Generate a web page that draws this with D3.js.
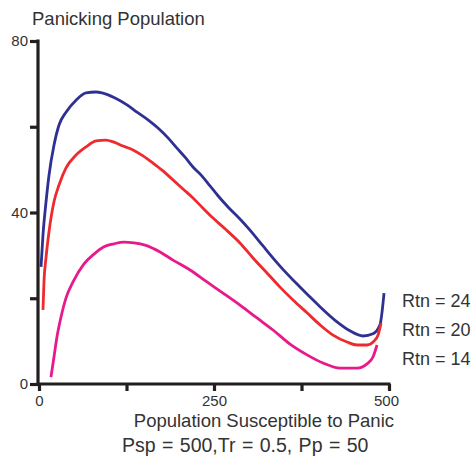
<!DOCTYPE html>
<html>
<head>
<meta charset="utf-8">
<script src="https://cdn.jsdelivr.net/npm/d3@7"></script>
<style>
  html, body { margin: 0; padding: 0; background: #fff; }
  svg { display: block; font-family: "Liberation Sans", Arial, sans-serif; }
</style>
</head>
<body>
<svg id="chart" width="472" height="460"></svg>
<script>
// Series: [population susceptible, panicking population]
const rtn24 = [[2.9,27.3],[5.7,34.8],[10.0,42.4],[14.3,48.7],[21.4,55.7],[28.6,60.4],[38.6,63.4],[52.9,66.2],[67.1,67.9],[81.4,68.1],[90.0,67.9],[108.6,66.7],[125.7,65.1],[140.0,63.4],[155.7,61.6],[170.0,59.7],[184.3,57.4],[197.1,55.0],[208.6,52.9],[220.0,50.6],[232.9,48.5],[244.3,46.2],[255.7,43.9],[270.0,41.3],[287.1,38.5],[301.4,35.9],[320.0,32.2],[344.3,27.5],[368.6,23.3],[397.1,18.7],[425.7,14.5],[444.3,12.4],[462.9,11.2],[477.1,11.7],[487.1,13.8],[492.9,21.2]];
const rtn20 = [[5.7,17.3],[7.1,23.8],[10.0,29.4],[14.3,35.5],[21.4,42.5],[28.6,46.4],[38.6,50.4],[52.9,53.4],[67.1,55.3],[81.4,56.7],[95.7,56.9],[107.1,56.4],[120.0,55.5],[134.3,54.6],[148.6,53.2],[162.9,51.5],[177.1,49.7],[191.4,47.6],[205.7,45.5],[220.0,43.4],[234.3,41.0],[248.6,38.7],[265.7,36.2],[287.1,32.9],[305.7,29.4],[325.7,25.9],[344.3,22.6],[362.9,19.6],[382.9,16.6],[401.4,13.8],[420.0,11.4],[440.0,9.8],[454.3,9.1],[468.6,9.1],[478.6,10.0],[484.3,11.4],[488.6,14.2]];
const rtn14 = [[17.1,1.6],[21.4,6.3],[25.7,11.0],[31.4,15.6],[38.6,20.1],[48.6,23.8],[64.3,28.0],[78.6,30.3],[92.9,32.0],[107.1,32.7],[121.4,33.1],[135.7,32.9],[151.4,32.4],[172.9,30.8],[191.4,28.9],[215.7,26.6],[240.0,23.8],[262.9,21.2],[287.1,18.4],[311.4,15.4],[334.3,12.6],[358.6,9.3],[382.9,6.8],[405.7,4.9],[430.0,3.7],[454.3,3.7],[468.6,4.7],[477.1,6.3],[482.9,9.1]];
const seriesNames = ["Rtn = 24", "Rtn = 20", "Rtn = 14"];
const seriesColors = ["#2e3192", "#ee2a2f", "#e8198b"];
const xTicks = [0, 125, 250, 375, 500];
const xTickLabels = ["0", "", "250", "", "500"];
const yTicks = [0, 20, 40, 60, 80];
const yTickLabels = ["0", "", "40", "", "80"];
const title = "Panicking Population";
const xTitle = "Population Susceptible to Panic";
const subTitle = "Psp = 500,Tr = 0.5, Pp = 50";

const svg = d3.select("#chart");
const x = d3.scaleLinear().domain([0, 500]).range([39, 389]);
const y = d3.scaleLinear().domain([0, 80]).range([384, 41]);
const ink = "#231f20";
const textCol = "#333";

// curves
const line = d3.line().x(d => x(d[0])).y(d => y(d[1])).curve(d3.curveMonotoneX);
[rtn24, rtn20, rtn14].forEach((s, i) => {
  svg.append("path").attr("d", line(s)).attr("fill", "none")
    .attr("stroke", seriesColors[i]).attr("stroke-width", 2.8);
});

// axes
const yAxis = d3.axisLeft(y).tickValues(yTicks).tickSize(8).tickSizeOuter(0)
  .tickFormat((d, i) => yTickLabels[i]).tickPadding(2);
const gy = svg.append("g").attr("transform", "translate(38,0)").call(yAxis);
const xAxis = d3.axisBottom(x).tickValues(xTicks).tickSize(7).tickSizeOuter(0)
  .tickFormat((d, i) => xTickLabels[i]).tickPadding(4);
const gx = svg.append("g").attr("transform", "translate(0,384)").call(xAxis);
[gx, gy].forEach(g => {
  g.select(".domain").attr("stroke", ink).attr("stroke-width", 3.2);
  g.selectAll(".tick line").attr("stroke", ink).attr("stroke-width", 3.2);
  g.selectAll(".tick text").attr("fill", textCol).attr("font-size", 15)
    .attr("font-family", "Liberation Sans, Arial, sans-serif");
});
gy.select(".domain").attr("d", "M0,39.5V385.5");
gx.select(".domain").attr("d", "M37,0H390.5");
gx.selectAll(".tick text").filter((d) => d === 500).attr("dx", -3);

// titles
svg.append("text").attr("x", 32).attr("y", 25).attr("font-size", 18.5)
  .attr("fill", textCol).text(title);
svg.append("text").attr("x", 394).attr("y", 427).attr("text-anchor", "end")
  .attr("font-size", 18.5).attr("fill", textCol).text(xTitle);
svg.append("text").attr("x", 122).attr("y", 452).attr("font-size", 19.5)
  .attr("word-spacing", 1).attr("fill", textCol).text(subTitle);

// legend labels
const legY = [307, 336, 365];
seriesNames.forEach((n, i) => {
  svg.append("text").attr("x", 402).attr("y", legY[i]).attr("font-size", 18)
    .attr("fill", textCol).text(n);
});
</script>
</body>
</html>
